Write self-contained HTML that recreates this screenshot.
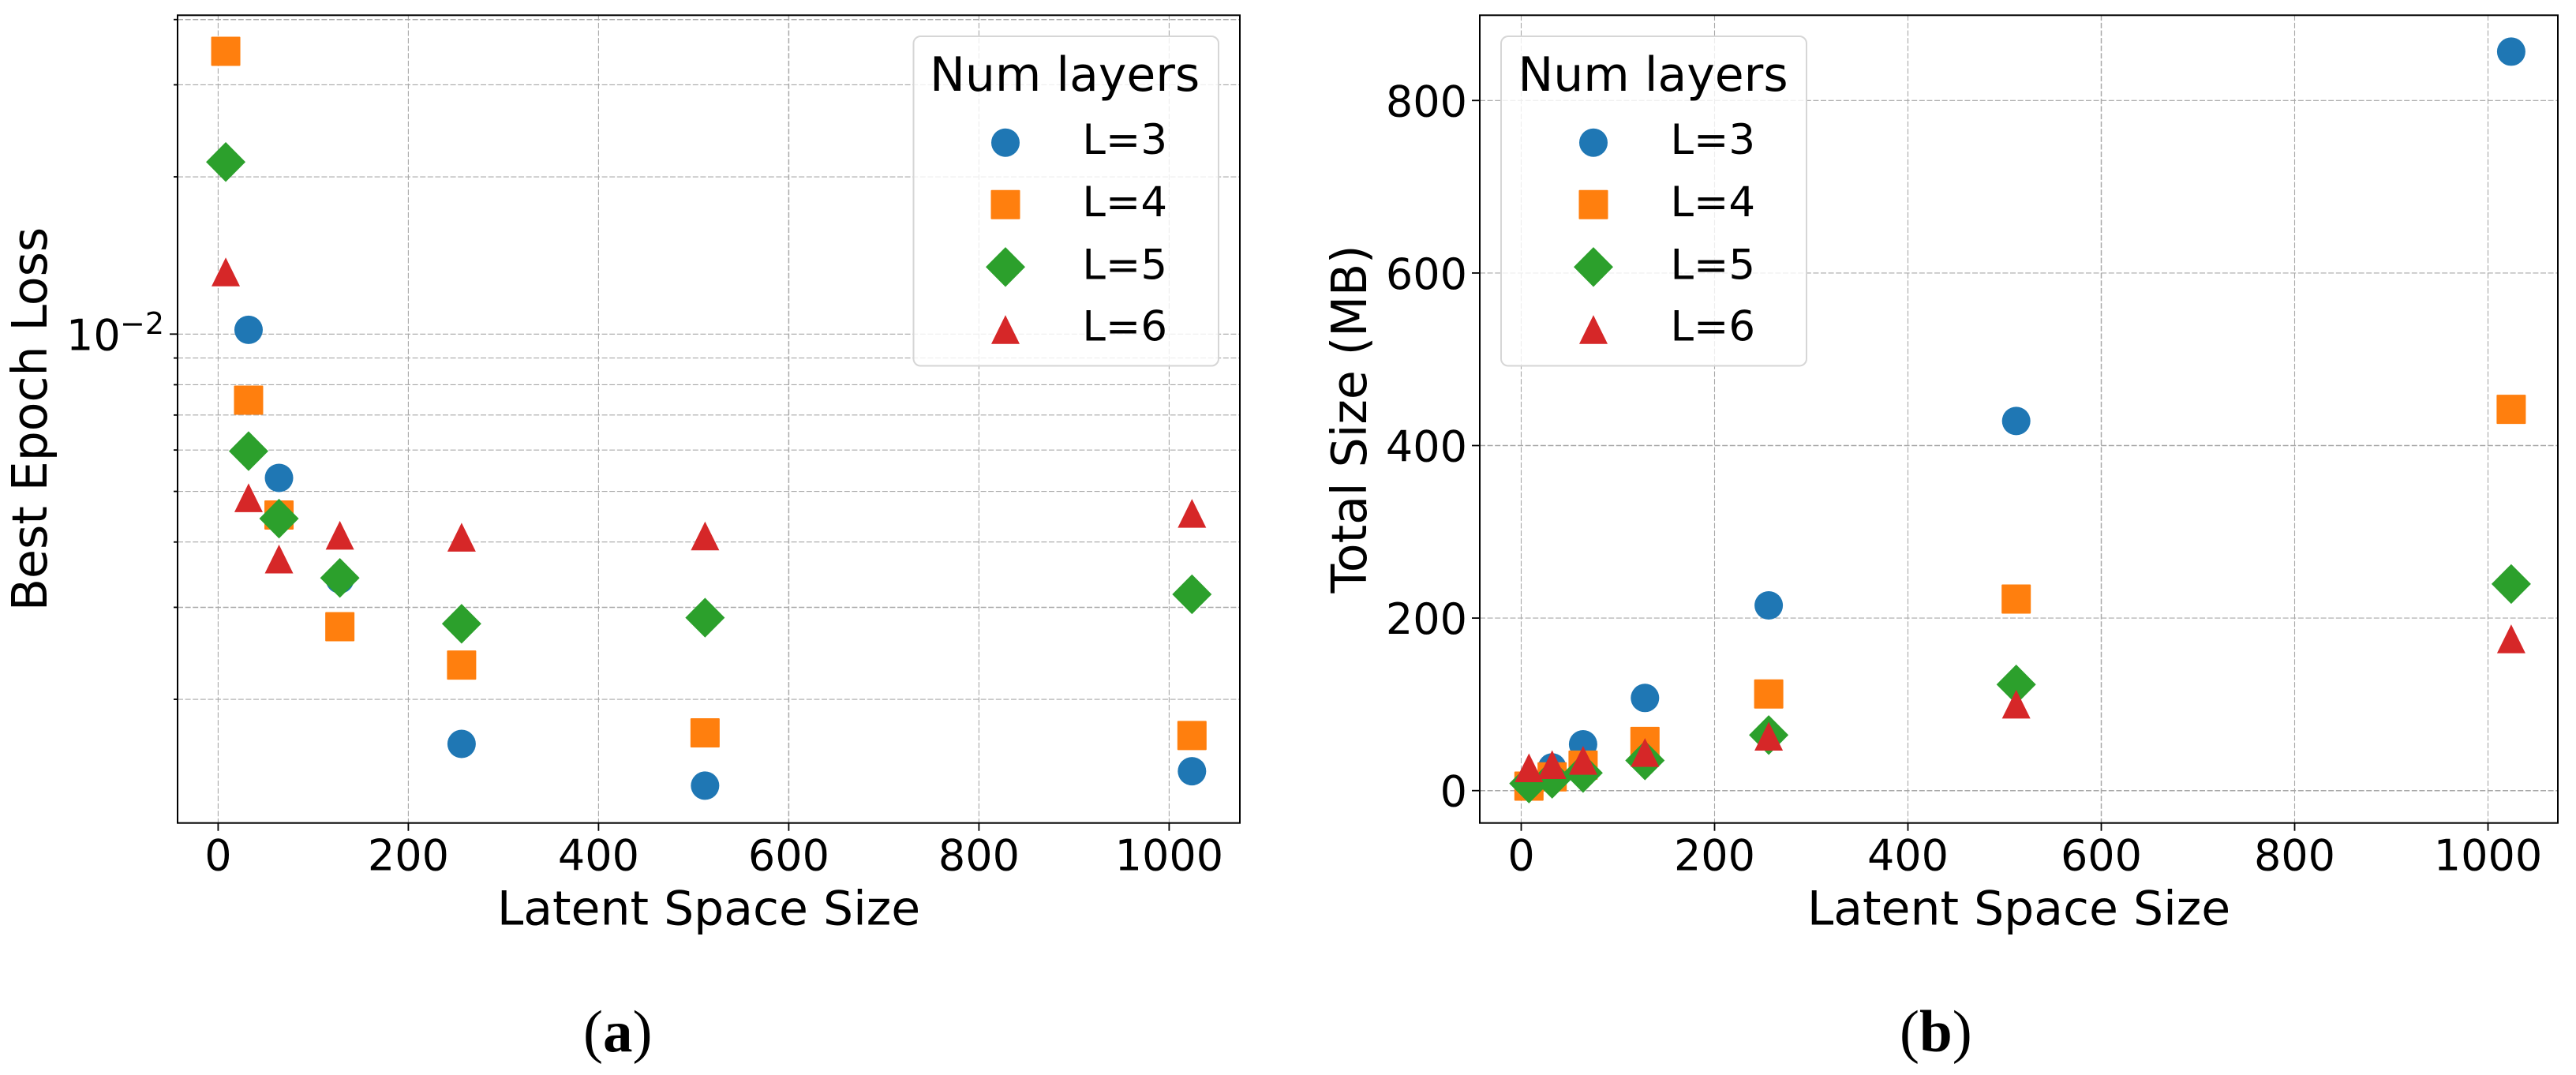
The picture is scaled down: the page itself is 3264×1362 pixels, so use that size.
<!DOCTYPE html>
<html lang="en">
<head>
<meta charset="utf-8">
<title>Latent space size comparison</title>
<style>
html,body{margin:0;padding:0;background:#fff;width:3264px;height:1362px;overflow:hidden}
svg{display:block}
text{font-family:"DejaVu Sans","Liberation Sans",sans-serif;fill:#000}
.cap{font-family:"Liberation Serif",serif}
</style>
</head>
<body>
<svg id="figure" xmlns="http://www.w3.org/2000/svg" width="3264" height="1362" viewBox="0 0 3264 1362">
  <rect x="0" y="0" width="3264" height="1362" fill="#fff"/>
  <g id="panel-a"></g>
  <g id="panel-b"></g>
</svg>
<script>
const latentSizes = [8, 32, 64, 128, 256, 512, 1024];
const seriesLabels = ['L=3', 'L=4', 'L=5', 'L=6'];
const seriesColors = ['#1f77b4', '#ff7f0e', '#2ca02c', '#d62728'];
const seriesShapes = ['circle', 'square', 'diamond', 'triangle'];

const lossL3 = [0.0348, 0.01019, 0.005306, 0.003394, 0.001643, 0.001367, 0.001457];
const lossL4 = [0.03477, 0.007475, 0.004505, 0.002754, 0.002326, 0.001725, 0.001705];
const lossL5 = [0.02135, 0.00597, 0.004435, 0.003415, 0.002790, 0.002866, 0.003177];
const lossL6 = [0.01314, 0.004857, 0.003708, 0.004118, 0.004082, 0.004105, 0.004536];

const sizeL3 = [6.7, 26.9, 53.7, 107.4, 214.7, 428.5, 856.6];
const sizeL4 = [5.2, 16, 29.6, 57, 112, 222, 442];
const sizeL5 = [8.3, 13.7, 20.5, 35, 64.4, 123, 239.5];
const sizeL6 = [26.3, 29.9, 34.8, 44, 62.9, 100, 175.7];

const xTickValues = [0, 200, 400, 600, 800, 1000];
const xTickLabels = ['0', '200', '400', '600', '800', '1000'];
const logMajorTicks = [0.01];
const logMinorTicks = [0.002, 0.003, 0.004, 0.005, 0.006, 0.007, 0.008, 0.009, 0.02, 0.03, 0.04];
const sizeTickValues = [0, 200, 400, 600, 800];
const sizeTickLabels = ['0', '200', '400', '600', '800'];

const NS = 'http://www.w3.org/2000/svg';
const TOP = 19.3, BOTTOM = 1042.7;

function xA(v) { return 276.4 + v * 1.205; }
function yA(v) { return 423.3 - Math.log10(v / 0.01) * 662; }
function xB(v) { return 1927.5 + v * 1.225; }
function yB(v) { return 1001.7 - v * 1.093; }

function svgEl(parent, tag, name, attrs) {
  const el = document.createElementNS(NS, tag);
  
  
  for (const k in attrs) el.setAttribute(k, attrs[k]);
  parent.appendChild(el);
  return el;
}

function addText(parent, name, str, x, y, size, anchor, extra) {
  const el = svgEl(parent, 'text', name, Object.assign({x: x, y: y, 'font-size': size, 'text-anchor': anchor}, extra || {}));
  el.textContent = str;
  return el;
}

function addMarker(parent, name, shape, cx, cy, color) {
  if (shape === 'circle') return svgEl(parent, 'circle', name, {cx: cx, cy: cy, r: 18, fill: color});
  if (shape === 'square') return svgEl(parent, 'rect', name, {x: cx - 18.5, y: cy - 18.5, width: 37, height: 37, rx: 1, fill: color});
  if (shape === 'diamond') {
    return svgEl(parent, 'polygon', name, {points: cx + ',' + (cy - 25.2) + ' ' + (cx + 25) + ',' + cy + ' ' + cx + ',' + (cy + 25.2) + ' ' + (cx - 25) + ',' + cy, fill: color});
  }
  return svgEl(parent, 'polygon', name, {points: cx + ',' + (cy - 18.5) + ' ' + (cx + 18) + ',' + (cy + 18) + ' ' + (cx - 18) + ',' + (cy + 18), fill: color});
}

function gridLine(parent, name, x1, y1, x2, y2, width) {
  return svgEl(parent, 'line', name, {x1: x1, y1: y1, x2: x2, y2: y2, stroke: '#a8a8a8', 'stroke-width': width, 'stroke-dasharray': '7 2.6'});
}

function tickLine(parent, name, x1, y1, x2, y2) {
  return svgEl(parent, 'line', name, {x1: x1, y1: y1, x2: x2, y2: y2, stroke: '#000', 'stroke-width': 1.8});
}

function drawLegend(parent, boxX, boxW, titleX, markerX, textX) {
  const g = svgEl(parent, 'g', 'legend', {});
  svgEl(g, 'rect', 'legend-box', {x: boxX, y: 46, width: boxW, height: 417.5, rx: 9, fill: 'rgba(255,255,255,0.8)', stroke: '#d6d6d6', 'stroke-width': 2});
  addText(g, 'legend-title', 'Num layers', titleX, 115, 60, 'start');
  const markerY = [180.7, 259.3, 338.3, 417.7];
  const textY = [195, 274, 353.3, 431.7];
  seriesLabels.forEach(function (label, i) {
    const entry = svgEl(g, 'g', 'legend-entry-' + label.toLowerCase().replace('=', ''), {});
    addMarker(entry, 'legend-marker', seriesShapes[i], markerX, markerY[i], seriesColors[i]);
    addText(entry, 'legend-label', label, textX, textY[i], 53, 'start');
  });
}

function drawPanelA() {
  const p = document.getElementById('panel-a');
  const left = 225, right = 1571;
  const grid = svgEl(p, 'g', 'grid', {});
  xTickValues.forEach(function (v) { gridLine(grid, 'x-gridline', xA(v), TOP, xA(v), BOTTOM, v === 600 ? 1.5 : 1.1); });
  logMajorTicks.concat(logMinorTicks).forEach(function (v) { gridLine(grid, 'y-gridline', left, yA(v), right, yA(v), v === 0.003 || v === 0.04 ? 1.5 : 1.1); });

  const marks = svgEl(p, 'g', 'scatter-points', {});
  [lossL3, lossL4, lossL5, lossL6].forEach(function (series, s) {
    series.forEach(function (val, i) {
      addMarker(marks, 'point-l' + (s + 3) + '-latent-' + latentSizes[i], seriesShapes[s], xA(latentSizes[i]), yA(val), seriesColors[s]);
    });
  });

  drawLegend(p, 1157.5, 386.5, 1178, 1274, 1371.4);

  const axes = svgEl(p, 'g', 'axes', {});
  svgEl(axes, 'rect', 'plot-frame', {x: left, y: TOP, width: right - left, height: BOTTOM - TOP, fill: 'none', stroke: '#000', 'stroke-width': 2});
  xTickValues.forEach(function (v, i) {
    tickLine(axes, 'x-tick', xA(v), BOTTOM, xA(v), BOTTOM + 10);
    addText(axes, 'x-tick-label', xTickLabels[i], xA(v), 1102.5, 54, 'middle');
  });
  logMajorTicks.forEach(function (v) { tickLine(axes, 'y-major-tick', left, yA(v), left - 10, yA(v)); });
  logMinorTicks.forEach(function (v) { tickLine(axes, 'y-minor-tick', left, yA(v), left - 5, yA(v)); });
  addText(axes, 'y-tick-label-base', '10', 84, 443.3, 54, 'start');
  addText(axes, 'y-tick-label-exponent', '\u22122', 152, 423, 38, 'start');
  addText(axes, 'x-axis-title', 'Latent Space Size', 898, 1171.7, 60, 'middle');
  addText(axes, 'y-axis-title', 'Best Epoch Loss', 59, 531, 60, 'middle', {transform: 'translate(59 531) rotate(-90) scale(1 1.03) translate(-59 -531)'});

  const cap = addText(p, 'caption-a', '(', 739, 1332, 75, 'start', {class: 'cap'});
  const a = document.createElementNS(NS, 'tspan');
  
  
  a.setAttribute('font-weight', 'bold');
  a.textContent = 'a';
  cap.appendChild(a);
  cap.appendChild(document.createTextNode(')'));
}

function drawPanelB() {
  const p = document.getElementById('panel-b');
  const left = 1875, right = 3241;
  const grid = svgEl(p, 'g', 'grid', {});
  xTickValues.forEach(function (v) { gridLine(grid, 'x-gridline', xB(v), TOP, xB(v), BOTTOM, v === 600 ? 1.5 : 1.1); });
  sizeTickValues.forEach(function (v) { gridLine(grid, 'y-gridline', left, yB(v), right, yB(v), v === 0 || v === 400 ? 1.5 : 1.1); });

  const marks = svgEl(p, 'g', 'scatter-points', {});
  [sizeL3, sizeL4, sizeL5, sizeL6].forEach(function (series, s) {
    series.forEach(function (val, i) {
      addMarker(marks, 'point-l' + (s + 3) + '-latent-' + latentSizes[i], seriesShapes[s], xB(latentSizes[i]), yB(val), seriesColors[s]);
    });
  });

  drawLegend(p, 1902, 387, 1923.4, 2019, 2116.5);

  const axes = svgEl(p, 'g', 'axes', {});
  svgEl(axes, 'rect', 'plot-frame', {x: left, y: TOP, width: right - left, height: BOTTOM - TOP, fill: 'none', stroke: '#000', 'stroke-width': 2});
  xTickValues.forEach(function (v, i) {
    tickLine(axes, 'x-tick', xB(v), BOTTOM, xB(v), BOTTOM + 10);
    addText(axes, 'x-tick-label', xTickLabels[i], xB(v), 1102.5, 54, 'middle');
  });
  sizeTickValues.forEach(function (v, i) {
    tickLine(axes, 'y-tick', left, yB(v), left - 10, yB(v));
    addText(axes, 'y-tick-label', sizeTickLabels[i], 1859, yB(v) + 20, 54, 'end');
  });
  addText(axes, 'x-axis-title', 'Latent Space Size', 2558, 1171.7, 60, 'middle');
  addText(axes, 'y-axis-title', 'Total Size (MB)', 1731, 531, 60, 'middle', {transform: 'translate(1731 531) rotate(-90) scale(1 1.03) translate(-1731 -531)'});

  const cap = addText(p, 'caption-b', '(', 2407, 1332, 75, 'start', {class: 'cap'});
  const b = document.createElementNS(NS, 'tspan');
  
  
  b.setAttribute('font-weight', 'bold');
  b.textContent = 'b';
  cap.appendChild(b);
  cap.appendChild(document.createTextNode(')'));
}

drawPanelA();
drawPanelB();
</script>
</body>
</html>
